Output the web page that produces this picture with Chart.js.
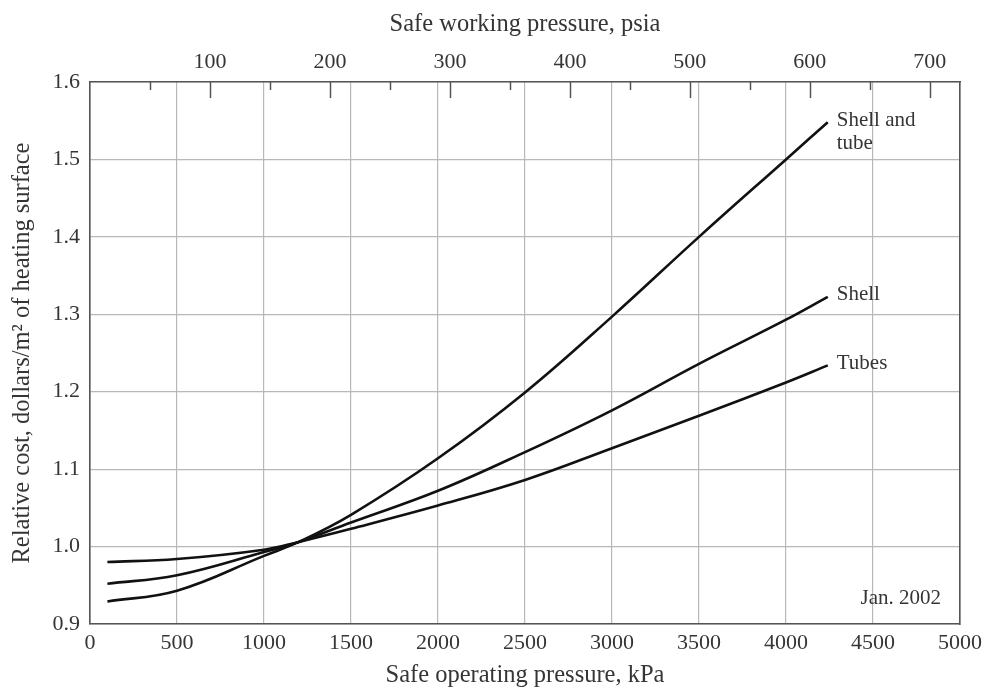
<!DOCTYPE html>
<html>
<head>
<meta charset="utf-8">
<script src="https://cdn.jsdelivr.net/npm/chart.js@4"></script>
<style>
  html, body { margin: 0; padding: 0; background: #ffffff; }
  #wrap { width: 988px; height: 691px; }
</style>
</head>
<body>
<div id="wrap"><canvas id="c" width="988" height="691"></canvas></div>
<script>
// Safe operating pressure, kPa
const pressureKPa = [100, 500, 1000, 1200, 1500, 2000, 2500, 3000, 3500, 4000, 4240];
// Relative cost, dollars/m² of heating surface
const shellAndTube = [0.929, 0.943, 0.988, 1.006, 1.041, 1.114, 1.199, 1.297, 1.400, 1.500, 1.548];
const shellOnly    = [0.952, 0.963, 0.993, 1.006, 1.031, 1.072, 1.122, 1.176, 1.236, 1.293, 1.3225];
const tubesOnly    = [0.980, 0.984, 0.996, 1.006, 1.023, 1.053, 1.086, 1.127, 1.169, 1.212, 1.234];

const seriesNames = [['Shell and', 'tube'], ['Shell'], ['Tubes']];
const kpaTicks = [0, 500, 1000, 1500, 2000, 2500, 3000, 3500, 4000, 4500, 5000];
const costTicks = [0.9, 1.0, 1.1, 1.2, 1.3, 1.4, 1.5, 1.6];
const psiaMajor = [100, 200, 300, 400, 500, 600, 700];
const psiaMinor = [50, 150, 250, 350, 450, 550, 650];
const KPA_PER_PSI = 6.895;
const dateNote = 'Jan. 2002';

const FONT = "'Liberation Serif', 'DejaVu Serif', serif";
const TEXT = '#353535';
const GRID = '#b8b8b8';
const FRAME = '#555555';

const toPoints = ys => pressureKPa.map((x, i) => ({ x, y: ys[i] }));

const curveStyle = {
  borderColor: '#111111',
  borderWidth: 2.6,
  pointRadius: 0,
  fill: false,
  tension: 0.4
};

// Inward tick marks on the psia axis, labels at the curve ends, date note
const annotate = {
  id: 'annotate',
  afterDatasetsDraw(chart) {
    const { ctx, chartArea } = chart;
    const xs = chart.scales.x, ys = chart.scales.y, top = chart.scales.x2;
    ctx.save();
    ctx.strokeStyle = FRAME;
    ctx.lineWidth = 1.5;
    const mark = (v, len) => {
      const px = Math.round(top.getPixelForValue(v)) + 0.5;
      ctx.beginPath();
      ctx.moveTo(px, chartArea.top);
      ctx.lineTo(px, chartArea.top + len);
      ctx.stroke();
    };
    psiaMajor.forEach(v => mark(v, 16));
    psiaMinor.forEach(v => mark(v, 8));

    ctx.fillStyle = TEXT;
    ctx.font = '21px ' + FONT;
    ctx.textAlign = 'left';
    ctx.textBaseline = 'middle';
    chart.data.datasets.forEach((ds, i) => {
      const last = ds.data[ds.data.length - 1];
      const px = xs.getPixelForValue(last.x) + 9;
      const py = ys.getPixelForValue(last.y) - 2;
      seriesNames[i].forEach((t, k) => ctx.fillText(t, px, py + k * 23));
    });

    ctx.font = '21px ' + FONT;
    ctx.textAlign = 'right';
    ctx.fillText(dateNote, chartArea.right - 19, ys.getPixelForValue(0.933));
    ctx.restore();
  }
};

new Chart(document.getElementById('c'), {
  type: 'line',
  data: {
    datasets: [
      { label: 'Shell and tube', data: toPoints(shellAndTube), ...curveStyle },
      { label: 'Shell', data: toPoints(shellOnly), ...curveStyle },
      { label: 'Tubes', data: toPoints(tubesOnly), ...curveStyle }
    ]
  },
  options: {
    responsive: false,
    animation: false,
    events: [],
    layout: { padding: 0 },
    plugins: { legend: { display: false }, tooltip: { enabled: false } },
    scales: {
      x: {
        type: 'linear',
        position: 'bottom',
        min: 0, max: 5000,
        afterBuildTicks: s => { s.ticks = kpaTicks.map(v => ({ value: v })); },
        afterFit: s => { s.height = 67; },
        grid: { color: GRID, lineWidth: 1.2, drawTicks: false },
        border: { display: true, color: FRAME, width: 1.6 },
        ticks: { color: TEXT, font: { family: FONT, size: 22 }, padding: 6, maxRotation: 0, autoSkip: false,
                 callback: v => String(v) },
        title: { display: true, text: 'Safe operating pressure, kPa', color: TEXT,
                 font: { family: FONT, size: 24.5 }, padding: { top: 0, bottom: 1 } }
      },
      x2: {
        type: 'linear',
        position: 'top',
        min: 0, max: 5000 / KPA_PER_PSI,
        afterBuildTicks: s => { s.ticks = psiaMajor.map(v => ({ value: v })); },
        afterFit: s => { s.height = 82; },
        grid: { display: true, drawOnChartArea: false, drawTicks: false },
        border: { display: true, color: FRAME, width: 1.6 },
        ticks: { color: TEXT, font: { family: FONT, size: 22 }, padding: 7, maxRotation: 0, autoSkip: false,
                 callback: v => String(v) },
        title: { display: true, text: 'Safe working pressure, psia', color: TEXT,
                 font: { family: FONT, size: 24.5 }, padding: { top: 10, bottom: 0 } }
      },
      y: {
        type: 'linear',
        position: 'left',
        min: 0.9, max: 1.6,
        afterBuildTicks: s => { s.ticks = costTicks.map(v => ({ value: v })); },
        afterFit: s => { s.width = 90; },
        grid: { color: GRID, lineWidth: 1.2, drawTicks: false },
        border: { display: true, color: FRAME, width: 1.6 },
        ticks: { color: TEXT, font: { family: FONT, size: 22 }, padding: 10,
                 callback: v => v.toFixed(1) },
        title: { display: true, text: 'Relative cost, dollars/m\u00B2 of heating surface', color: TEXT,
                 font: { family: FONT, size: 24.5 }, padding: { top: 8, bottom: 0 } }
      },
      y2: {
        type: 'linear',
        position: 'right',
        min: 0.9, max: 1.6,
        afterFit: s => { s.width = 26; },
        grid: { display: true, drawOnChartArea: false, drawTicks: false },
        border: { display: true, color: FRAME, width: 1.6 },
        ticks: { display: false }
      }
    }
  },
  plugins: [annotate]
});
</script>
</body>
</html>
